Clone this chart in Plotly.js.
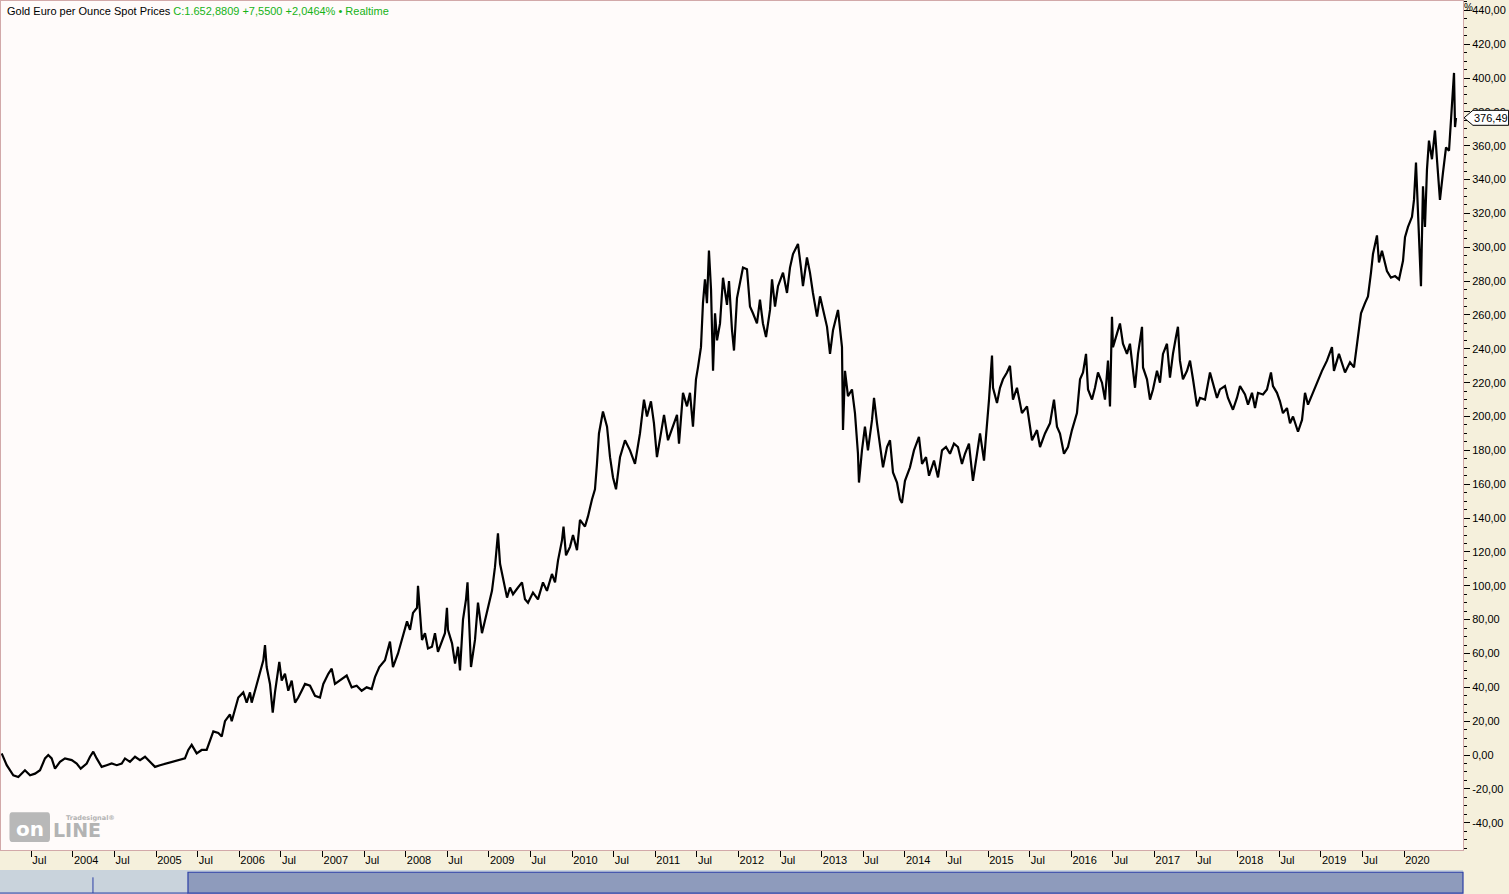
<!DOCTYPE html>
<html>
<head>
<meta charset="utf-8">
<script src="https://cdn.plot.ly/plotly-3.0.1.min.js"></script>
<style>
  html, body { margin: 0; padding: 0; background: #f5f0dc; }
  #chart { width: 1509px; height: 894px; }
</style>
</head>
<body>
<div id="chart"></div>
<script>
// ---- Data (x = decimal year, y = % change since start) ----
const dates = [
  2003.143,2003.204,2003.283,2003.343,2003.423,2003.484,2003.544,2003.604,2003.664,2003.703,2003.744,2003.784,2003.844,2003.904,2003.985,
  2004.045,2004.093,2004.165,2004.205,2004.244,2004.285,2004.345,2004.405,2004.465,2004.526,2004.586,2004.625,2004.685,2004.746,2004.806,2004.866,2004.926,2004.986,
  2005.046,2005.127,2005.206,2005.286,2005.346,2005.386,2005.427,2005.487,2005.547,2005.607,2005.647,2005.687,2005.747,2005.788,2005.827,2005.887,2005.908,2005.947,2005.987,
  2006.047,2006.088,2006.128,2006.148,2006.188,2006.248,2006.288,2006.308,2006.328,2006.368,2006.401,2006.428,2006.480,2006.509,2006.548,2006.588,2006.629,2006.669,2006.708,2006.749,2006.789,2006.849,2006.909,2006.969,
  2007.009,2007.069,2007.110,2007.149,2007.209,2007.290,2007.350,2007.410,2007.470,2007.530,2007.590,2007.630,2007.682,2007.750,2007.810,2007.846,2007.907,2007.967,
  2008.015,2008.051,2008.087,2008.135,2008.147,2008.171,2008.195,2008.231,2008.267,2008.315,2008.351,2008.387,2008.435,2008.471,2008.495,2008.507,2008.556,2008.592,2008.628,2008.652,2008.688,2008.724,2008.742,2008.772,2008.784,2008.832,2008.868,2008.916,2008.952,2008.988,
  2009.036,2009.072,2009.108,2009.133,2009.169,2009.217,2009.253,2009.289,2009.349,2009.397,2009.433,2009.469,2009.529,2009.589,2009.649,2009.697,2009.757,2009.794,2009.830,2009.878,2009.896,2009.926,2009.974,
  2010.010,2010.058,2010.094,2010.154,2010.190,2010.238,2010.274,2010.298,2010.322,2010.370,2010.419,2010.455,2010.491,2010.527,2010.575,2010.635,2010.695,2010.755,2010.815,2010.863,2010.899,2010.947,2010.983,
  2011.019,2011.068,2011.104,2011.152,2011.212,2011.260,2011.284,2011.332,2011.380,2011.416,2011.452,2011.488,2011.512,2011.548,2011.572,2011.596,2011.620,2011.644,2011.669,2011.693,2011.717,2011.741,2011.777,2011.813,2011.861,2011.885,2011.921,2011.945,2011.981,
  2012.017,2012.053,2012.101,2012.137,2012.173,2012.221,2012.257,2012.293,2012.330,2012.378,2012.402,2012.438,2012.474,2012.534,2012.582,2012.618,2012.654,2012.714,2012.750,2012.774,2012.822,2012.858,2012.894,2012.943,2012.979,
  2013.015,2013.063,2013.099,2013.135,2013.195,2013.243,2013.255,2013.279,2013.315,2013.363,2013.399,2013.435,2013.447,2013.483,2013.519,2013.555,2013.604,2013.628,2013.664,2013.700,2013.736,2013.784,2013.820,2013.856,2013.904,2013.940,2013.964,
  2014.000,2014.060,2014.108,2014.168,2014.205,2014.253,2014.289,2014.349,2014.397,2014.445,2014.493,2014.541,2014.589,2014.637,2014.685,2014.721,2014.769,2014.817,2014.866,2014.902,2014.950,2014.986,
  2015.010,2015.046,2015.058,2015.106,2015.142,2015.178,2015.226,2015.262,2015.298,2015.346,2015.406,2015.467,2015.527,2015.587,2015.623,2015.683,2015.743,2015.791,2015.827,2015.863,2015.911,2015.959,
  2016.007,2016.067,2016.104,2016.140,2016.176,2016.200,2016.248,2016.284,2016.320,2016.368,2016.404,2016.440,2016.464,2016.488,2016.500,2016.548,2016.584,2016.620,2016.668,2016.704,2016.741,2016.765,2016.801,2016.849,2016.861,2016.909,2016.945,2016.981,
  2017.029,2017.065,2017.101,2017.149,2017.185,2017.221,2017.257,2017.281,2017.305,2017.341,2017.390,2017.426,2017.462,2017.510,2017.546,2017.606,2017.666,2017.702,2017.750,2017.786,2017.846,2017.882,2017.942,2017.990,
  2018.027,2018.087,2018.123,2018.171,2018.207,2018.243,2018.303,2018.351,2018.399,2018.423,2018.471,2018.507,2018.543,2018.591,2018.628,2018.664,2018.724,2018.772,2018.808,2018.844,2018.904,2018.964,
  2019.012,2019.072,2019.132,2019.156,2019.216,2019.289,2019.349,2019.397,2019.433,2019.457,2019.481,2019.529,2019.565,2019.601,2019.625,2019.673,2019.697,2019.733,2019.769,2019.793,2019.841,2019.890,2019.938,2019.986,
  2020.010,2020.046,2020.094,2020.118,2020.142,2020.166,2020.202,2020.226,2020.250,2020.274,2020.298,2020.334,2020.370,2020.394,2020.430,2020.466,2020.503,2020.539,2020.575,2020.599,2020.611,2020.623
];
const pctChange = [
  1,-6,-12,-13,-9,-12,-11,-9,-2,0,-2,-8,-4,-2,-3,
  -5,-8,-5,-1,2,-2,-7,-6,-5,-6,-5,-2,-4,-1,-3,-1,-4,-7,
  -6,-5,-4,-3,-2,3,6,1,3,3,9,14,13,11,20,24,20,27,34,
  37,31,37,31,38,48,56,65,52,42,25,37,55,44,48,38,44,31,34,38,42,41,35,34,
  42,48,51,42,44,47,40,41,38,40,39,46,52,56,67,52,60,71,
  79,74,84,87,100,84,68,72,63,64,72,61,68,72,87,74,66,54,64,50,80,92,102,72,52,68,90,72,80,87,
  97,111,131,113,105,93,99,95,99,102,92,90,96,92,102,97,107,102,115,127,135,118,123,
  130,121,139,135,141,151,157,172,190,203,194,176,164,157,176,186,180,172,190,210,200,209,196,
  176,192,201,186,195,201,184,214,206,214,194,222,229,241,267,281,267,298,275,227,261,245,255,282,266,280,251,239,270,
  279,288,287,265,261,255,269,255,247,263,281,265,277,285,273,288,296,302,288,277,294,285,273,259,271,
  263,253,237,251,263,241,192,227,212,216,202,178,161,180,194,180,198,211,196,184,170,182,186,167,161,151,149,
  162,170,180,188,172,176,165,174,164,180,182,178,184,182,172,178,184,162,178,190,174,194,
  210,236,217,208,217,222,226,230,210,217,202,206,186,192,182,190,196,210,194,190,178,182,
  192,202,222,226,237,216,210,217,226,220,210,233,206,259,241,249,255,243,237,243,226,217,237,253,229,222,210,216,
  227,220,237,243,223,237,247,253,233,222,227,233,222,206,211,210,226,220,211,216,218,211,204,211,
  218,213,207,214,205,214,213,216,226,218,214,209,202,205,196,200,191,198,214,207,214,222,
  227,233,241,227,237,226,232,229,243,249,261,267,271,285,296,307,291,298,291,286,282,283,281,292,
  306,312,318,328,350,322,277,336,312,346,363,352,369,352,328,344,359,357,385,403,371,376.49
];
const tickYears = [2004,2005,2006,2007,2008,2009,2010,2011,2012,2013,2014,2015,2016,2017,2018,2019,2020];
const midYearLabel = "Jul";
const yTickVals = [-40,-20,0,20,40,60,80,100,120,140,160,180,200,220,240,260,280,300,320,340,360,380,400,420,440];
const titleName = "Gold Euro per Ounce Spot Prices";
const titleQuote = "C:1.652,8809 +7,5500 +2,0464% \u2022 Realtime";
const lastLabel = "376,49";

// ---- Axis ticks built from the label arrays ----
const xTickVals = [], xTickText = [];
tickYears.forEach(y => {
  xTickVals.push(y - 0.5); xTickText.push(midYearLabel);
  xTickVals.push(y); xTickText.push(String(y));
});
const yTickText = yTickVals.map(v => v.toFixed(2).replace(".", ","));

const xRange = [2003.135, 2020.707];
const yRange = [-56.1, 445.5];
const lastVal = pctChange[pctChange.length - 1];
const yPaperLast = (lastVal - yRange[0]) / (yRange[1] - yRange[0]);
const tagH = 7.5 / 849;

const FONT = "Liberation Sans, Arial, sans-serif";

const trace = {
  x: dates, y: pctChange, type: "scatter", mode: "lines",
  line: { color: "#000000", width: 2.2 }, hoverinfo: "skip"
};

const layout = {
  width: 1509, height: 894,
  margin: { l: 1, r: 46, t: 1, b: 44 },
  paper_bgcolor: "#f5f0dc",
  plot_bgcolor: "#fffbfa",
  separators: ",.",
  showlegend: false,
  font: { family: FONT, size: 11, color: "#000" },
  xaxis: {
    type: "linear", range: xRange, fixedrange: true,
    tickmode: "array", tickvals: xTickVals, ticktext: xTickText,
    ticks: "outside", ticklen: 6, tickcolor: "#000", tickwidth: 1,
    ticklabelposition: "outside right",
    tickfont: { family: FONT, size: 11, color: "#000" },
    showgrid: false, zeroline: false,
    showline: true, linecolor: "#d2a9a9", linewidth: 1, mirror: true
  },
  yaxis: {
    side: "right", range: yRange, fixedrange: true,
    tickmode: "array", tickvals: yTickVals, ticktext: yTickText,
    ticks: "outside", ticklen: 6, tickcolor: "#000", tickwidth: 1,
    minor: { dtick: 5, tick0: 0, ticks: "outside", ticklen: 3, tickcolor: "#000", showgrid: false },
    tickfont: { family: FONT, size: 11, color: "#000" },
    showgrid: false, zeroline: false,
    showline: true, linecolor: "#d2a9a9", linewidth: 1, mirror: true
  },
  shapes: [
    // navigator strip
    { type: "rect", xref: "paper", yref: "paper", x0: -0.001, x1: 1, y0: -0.0518, y1: -0.0236,
      fillcolor: "#c9d3dc", line: { width: 0 }, layer: "above" },
    { type: "rect", xref: "paper", yref: "paper", x0: 0.1279, x1: 1, y0: -0.0507, y1: -0.0262,
      fillcolor: "#8e9bbc", line: { color: "#2c3fa6", width: 1.2 }, layer: "above" },
    { type: "line", xref: "paper", yref: "paper", x0: 0.0629, x1: 0.0629, y0: -0.0507, y1: -0.0322,
      line: { color: "#2c3fa6", width: 1 }, layer: "above" },
    { type: "line", xref: "paper", yref: "paper", x0: -0.001, x1: 0.1279, y0: -0.0507, y1: -0.0507,
      line: { color: "#2c3fa6", width: 1 }, layer: "above" },
    // last value tag
    { type: "path", xref: "paper", yref: "paper",
      path: "M 1.0007 " + yPaperLast + " L 1.0068 " + (yPaperLast + tagH) + " L 1.0312 " + (yPaperLast + tagH) +
            " L 1.0312 " + (yPaperLast - tagH) + " L 1.0068 " + (yPaperLast - tagH) + " Z",
      fillcolor: "#ffffff", line: { color: "#000", width: 1 }, layer: "above" },
    // logo box
    { type: "path", xref: "paper", yref: "paper",
      path: "M 0.0075 0.0445 L 0.0318 0.0445 Q 0.0335 0.0445 0.0335 0.040 L 0.0335 0.0140 Q 0.0335 0.0094 0.0318 0.0094 L 0.0075 0.0094 Q 0.0058 0.0094 0.0058 0.0140 L 0.0058 0.040 Q 0.0058 0.0445 0.0075 0.0445 Z",
      fillcolor: "#b8b8b8", line: { width: 0 }, layer: "below" }
  ],
  annotations: [
    { xref: "paper", yref: "paper", x: 0.003, y: 0.998, xanchor: "left", yanchor: "top", showarrow: false,
      text: titleName + " <span style='color:#16b316'>" + titleQuote + "</span>",
      font: { family: FONT, size: 11, color: "#000" } },
    { xref: "paper", yref: "paper", x: 1, y: 1.0015, xanchor: "left", yanchor: "top", xshift: -1, showarrow: false,
      text: "%", font: { family: FONT, size: 10, color: "#000" } },
    { xref: "paper", yref: "paper", x: 1.0312, y: yPaperLast, xanchor: "right", yanchor: "middle", xshift: 1, showarrow: false,
      text: lastLabel, font: { family: FONT, size: 11, color: "#000" } },
    { xref: "paper", yref: "paper", x: 0.0196, y: 0.0085, xanchor: "center", yanchor: "bottom", showarrow: false,
      text: "<b>on</b>", font: { family: "DejaVu Sans, sans-serif", size: 20, color: "#ffffff" } },
    { xref: "paper", yref: "paper", x: 0.0342, y: 0.0085, xanchor: "left", yanchor: "bottom", showarrow: false,
      text: "<b>LINE</b>", font: { family: "DejaVu Sans, sans-serif", size: 19, color: "#b3b3b3" } },
    { xref: "paper", yref: "paper", x: 0.0430, y: 0.0445, xanchor: "left", yanchor: "top", showarrow: false,
      text: "<b>Tradesignal\u00ae</b>", font: { family: "DejaVu Sans, sans-serif", size: 6.5, color: "#b3b3b3" } }
  ]
};

Plotly.newPlot("chart", [trace], layout, { displayModeBar: false, staticPlot: true });
</script>
</body>
</html>
